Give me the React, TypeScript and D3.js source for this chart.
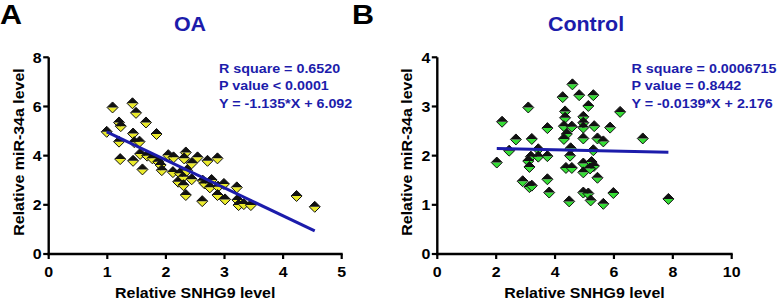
import React from "react";
import * as d3 from "d3";

// OA panel data
const oaX = [0.99,1.09,1.20,1.23,1.20,1.22,1.43,1.49,1.44,1.46,1.44,1.55,1.56,1.60,1.66,1.68,1.77,1.84,1.87,1.91,1.93,2.04,2.13,2.12,2.21,2.24,2.30,2.30,2.34,2.34,2.31,2.44,2.44,2.36,2.54,2.62,2.63,2.66,2.71,2.78,2.75,2.88,2.89,2.88,2.99,3.01,3.21,3.22,3.24,3.33,3.45,4.23,4.54];
const oaY = [4.97,5.96,5.35,5.20,4.57,3.86,6.13,5.74,4.90,4.55,3.79,4.57,4.07,3.44,5.35,4.00,3.89,4.88,3.75,3.62,3.41,4.02,3.93,3.33,2.94,3.28,3.14,2.80,2.40,4.13,3.89,3.69,3.04,3.40,3.93,2.15,2.98,2.87,3.79,3.01,2.71,3.89,2.74,2.40,2.85,2.22,2.71,2.20,1.99,2.03,1.99,2.36,1.92];

// Control panel data
const ctX = [2.02,2.20,2.44,2.67,3.09,3.21,3.43,3.18,3.43,3.09,3.13,2.90,3.13,3.21,3.74,3.74,3.74,3.80,4.26,4.34,4.34,4.30,4.40,4.30,4.59,4.57,4.53,4.51,4.37,4.57,4.48,4.82,4.96,4.96,4.96,4.96,4.96,4.96,4.96,5.13,5.13,5.30,5.33,5.30,5.24,5.32,5.19,5.21,5.44,5.44,5.64,5.64,5.87,5.98,6.21,6.98,7.85];
const ctY = [1.86,2.69,2.10,2.33,2.98,2.34,2.13,1.98,1.98,1.89,1.77,1.48,1.36,1.39,2.56,1.99,1.52,1.25,3.19,2.90,2.77,2.60,2.44,2.34,3.45,2.59,2.15,2.00,1.75,1.75,1.07,3.23,2.79,2.67,2.57,2.35,1.84,1.66,1.25,3.01,1.23,3.23,2.60,2.11,1.87,1.79,1.74,1.09,2.35,1.55,2.29,1.02,2.57,1.24,2.89,2.35,1.12];

const oaXTicks = [0,1,2,3,4,5];
const oaYTicks = [0,2,4,6,8];
const ctXTicks = [0,2,4,6,8,10];
const ctYTicks = [0,1,2,3,4];

const oaStats = ["R square = 0.6520", "P value < 0.0001", "Y = -1.135*X + 6.092"];
const ctStats = ["R square = 0.0006715", "P value = 0.8442", "Y = -0.0139*X + 2.176"];
const oaFit = { slope: -1.135, intercept: 6.092 };
const ctFit = { slope: -0.0139, intercept: 2.176 };

const FONT = "'Liberation Sans', Arial, sans-serif";
const BLUE = "#1c1cab";

function Diamond({ cx, cy, fill }: { cx: number; cy: number; fill: string }) {
  const r = 5.5;
  return (
    <g transform={`translate(${cx},${cy})`}>
      <path d={`M${-r},0L${r},0L0,${r}Z`} fill={fill} />
      <path d={`M${-r},0L0,${-r}L${r},0Z`} fill="#111" />
      <path d={`M0,${-r}L${r},0L0,${r}L${-r},0Z`} fill="none" stroke="#111" strokeWidth={1} />
    </g>
  );
}

// horizontally widened text (reference glyphs are wider than tall)
function WText({ x, y, size, anchor = "start", fill = "#000", children, sx = 1.1 }: any) {
  return (
    <g transform={`translate(${x},${y}) scale(${sx},1)`}>
      <text x={0} y={0} fontSize={size} textAnchor={anchor} fill={fill}>{children}</text>
    </g>
  );
}

function Panel({
  xs, ys, xDomain, yDomain, xRange, xTicks, yTicks, fill, title, titleX, letter, letterX, stats, statsX, fit,
}: any) {
  const x = d3.scaleLinear().domain(xDomain).range(xRange);
  const y = d3.scaleLinear().domain(yDomain).range([254, 57.3]);
  const x0 = xRange[0];
  const xmin = d3.min(xs) as number;
  const xmax = d3.max(xs) as number;
  const line = d3.line<number>().x((d) => x(d)).y((d) => y(fit.slope * d + fit.intercept));
  const midX = (xRange[0] + xRange[1]) / 2;
  return (
    <g fontFamily={FONT} fontWeight="bold">
      <WText x={letterX} y={24} size={28.5} sx={1.07}>{letter}</WText>
      <WText x={titleX} y={30.5} size={19.5} anchor="middle" fill={BLUE}>{title}</WText>
      {xs.map((v: number, i: number) => (
        <Diamond key={i} cx={x(v)} cy={y(ys[i])} fill={fill} />
      ))}
      <path d={line([xmin, xmax]) || ""} stroke={BLUE} strokeWidth={3} fill="none" />
      <line x1={x0} x2={x0} y1={y(yDomain[1])} y2={y(0) + 1.2} stroke="#000" strokeWidth={2.4} />
      <line x1={x0 - 1.2} x2={xRange[1] + 1} y1={y(0)} y2={y(0)} stroke="#000" strokeWidth={2.4} />
      {xTicks.map((t: number) => (
        <g key={"xt" + t}>
          <line x1={x(t)} x2={x(t)} y1={y(0)} y2={y(0) + 5} stroke="#000" strokeWidth={2.2} />
          <WText x={x(t)} y={276.7} size={14.5} anchor="middle">{t}</WText>
        </g>
      ))}
      {yTicks.map((t: number) => (
        <g key={"yt" + t}>
          <line x1={x0 - 5.5} x2={x0} y1={y(t)} y2={y(t)} stroke="#000" strokeWidth={2.2} />
          <WText x={x0 - 7} y={y(t) + 5.2} size={14.5} anchor="end">{t}</WText>
        </g>
      ))}
      <WText x={midX} y={297.5} size={14.5} anchor="middle">Relative SNHG9 level</WText>
      <g transform={`translate(${x0 - 25},${152}) rotate(-90)`}>
        <WText x={0} y={0} size={14.5} anchor="middle">Relative miR-34a level</WText>
      </g>
      {stats.map((s: string, i: number) => (
        <WText key={s} x={statsX} y={73 + i * 17.3} size={13} fill={BLUE}>{s}</WText>
      ))}
    </g>
  );
}

export default function App() {
  return (
    <svg
      width={778}
      height={301}
      style={{ position: "absolute", left: 0, top: 0, background: "#fff" }}
    >
      <rect width={778} height={301} fill="#fff" />
      <Panel
        xs={oaX} ys={oaY} xDomain={[0, 5]} yDomain={[0, 8]} xRange={[48.7, 341.7]}
        xTicks={oaXTicks} yTicks={oaYTicks} fill="#eaea2a" title="OA" titleX={190} letter="A" letterX={0}
        stats={oaStats} statsX={219} fit={oaFit}
      />
      <Panel
        xs={ctX} ys={ctY} xDomain={[0, 10]} yDomain={[0, 4]} xRange={[437.3, 731.7]}
        xTicks={ctXTicks} yTicks={ctYTicks} fill="#35dd35" title="Control" titleX={586} letter="B" letterX={352}
        stats={ctStats} statsX={631.5} fit={ctFit}
      />
    </svg>
  );
}
